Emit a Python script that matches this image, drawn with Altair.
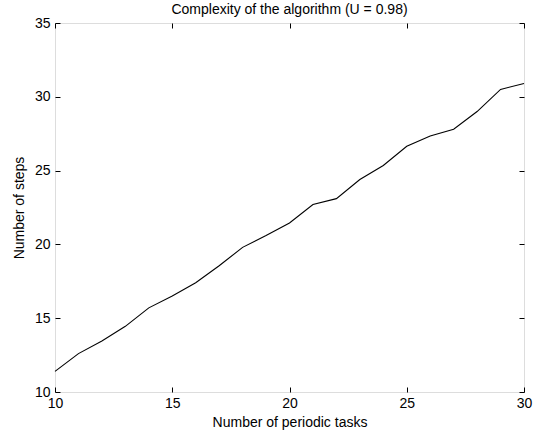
import altair as alt
import pandas as pd

tasks = list(range(10, 31))
steps = [11.4, 12.6, 13.45, 14.45, 15.7, 16.5, 17.4, 18.55, 19.8, 20.6, 21.45,
         22.7, 23.1, 24.4, 25.35, 26.65, 27.35, 27.8, 29.0, 30.5, 30.9]
x_ticks = [10, 15, 20, 25, 30]
y_ticks = [10, 15, 20, 25, 30, 35]

df = pd.DataFrame({"tasks": tasks, "steps": steps})

FONT = "Liberation Sans"
xscale = alt.Scale(domain=[10, 30], nice=False, zero=False)
yscale = alt.Scale(domain=[10, 35], nice=False, zero=False)

def ax(orient, labels, title=None, values=None, label_pad=10, title_pad=4):
    kw = dict(orient=orient, values=values, domain=False, grid=False,
              ticks=True, tickColor="black", tickWidth=1,
              tickSize={"expr": "-5"}, labels=labels, labelPadding=label_pad,
              labelFlush=False, labelOverlap=False,
              labelFont=FONT, labelFontSize=14, labelColor="black",
              titleFont=FONT, titleFontSize=14, titleFontWeight="normal",
              titleColor="black", titlePadding=title_pad)
    kw["title"] = title
    return alt.Axis(**kw)

base = alt.Chart(df)

main = base.mark_line(color="black", strokeWidth=1.1).encode(
    x=alt.X("tasks:Q", scale=xscale,
            axis=ax("bottom", True, "Number of periodic tasks", x_ticks,
                    label_pad=9, title_pad=5)),
    y=alt.Y("steps:Q", scale=yscale,
            axis=ax("left", True, "Number of steps", y_ticks,
                    label_pad=10, title_pad=8)),
)

frame = base.mark_line(opacity=0).encode(
    x=alt.X("tasks:Q", scale=xscale,
            axis=ax("top", False, None, x_ticks, label_pad=0)),
    y=alt.Y("steps:Q", scale=yscale,
            axis=ax("right", False, None, y_ticks, label_pad=0)),
)

chart = alt.layer(main, frame).resolve_axis(
    x="independent", y="independent"
).properties(
    width=469, height=369,
    autosize=alt.AutoSizeParams(type="none"),
    padding={"left": 55, "top": 23, "right": 16, "bottom": 43},
    title=alt.TitleParams("Complexity of the algorithm (U = 0.98)",
                          font=FONT, fontSize=14, fontWeight="normal",
                          color="black", offset=4, dy=5, anchor="middle"),
).configure_view(stroke="black", strokeWidth=1).configure(background="white")

chart.save("out.html", embed_options={"renderer": "svg", "actions": False})
